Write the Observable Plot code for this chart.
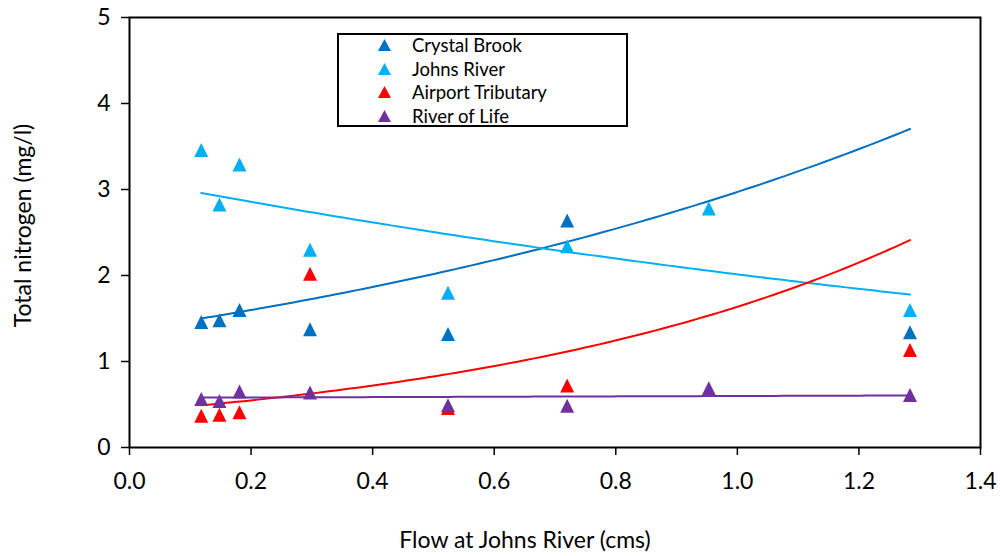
<!DOCTYPE html>
<html>
<head>
<meta charset="utf-8">
<script src="https://cdn.jsdelivr.net/npm/d3@7"></script>
<script src="https://cdn.jsdelivr.net/npm/@observablehq/plot@0.6"></script>
<style>
  html, body { margin: 0; padding: 0; background: #fff; }
  #chart { position: relative; width: 1000px; height: 556px; font-family: Lato, "Open Sans", sans-serif; }
  #legend {
    position: absolute; left: 337px; top: 33px; width: 287px; height: 90px;
    border: 2px solid #000; background: #fff; box-sizing: content-box;
  }
  #legend .row { position: absolute; left: 0; height: 24px; display: flex; align-items: center; }
  #legend .row svg { position: absolute; left: 39px; }
  #legend .row span { position: absolute; left: 73px; font-size: 18.5px; white-space: nowrap; color: #000; }
</style>
</head>
<body>
<div id="chart"></div>
<script>
// Flow at Johns River (cms) for each sampling date
const flow = [0.118, 0.148, 0.181, 0.297, 0.524, 0.720, 0.953, 1.284];

// Total nitrogen (mg/l) per site; null where no sample was taken
const crystalBrook     = [1.46, 1.48, 1.60, 1.375, 1.32, 2.64, null, 1.34];
const johnsRiver       = [3.46, 2.825, 3.29, 2.30, 1.80, 2.34, 2.78, 1.60];
const airportTributary = [0.37, 0.38, 0.41, 2.02, 0.46, 0.72, null, 1.135];
const riverOfLife      = [0.564, 0.54, 0.65, 0.64, 0.49, 0.486, 0.69, 0.61];

const siteNames  = ["Crystal Brook", "Johns River", "Airport Tributary", "River of Life"];
const siteColors = ["#0070C0", "#00B0F0", "#FF0000", "#7030A0"];

// Exponential trendline coefficients, y = a * exp(b * x)
const trendA = [1.369, 3.117, 0.417, 0.5775];
const trendB = [0.775, -0.437, 1.367, 0.0362];

const xTicks = [0, 0.2, 0.4, 0.6, 0.8, 1.0, 1.2, 1.4];
const yTicks = [0, 1, 2, 3, 4, 5];

const seriesValues = [crystalBrook, johnsRiver, airportTributary, riverOfLife];

// Long table of observed points
const points = [];
seriesValues.forEach((vals, s) => {
  vals.forEach((v, i) => {
    if (v != null) points.push({site: siteNames[s], flow: flow[i], tn: v});
  });
});

// Trend curves sampled across the observed flow range
const [xMin, xMax] = d3.extent(flow);
const trends = [];
siteNames.forEach((name, s) => {
  d3.range(0, 101).forEach(k => {
    const x = xMin + (xMax - xMin) * k / 100;
    trends.push({site: name, flow: x, tn: trendA[s] * Math.exp(trendB[s] * x)});
  });
});

// Upward triangle whose box is centred on the point (width = height = 2r)
const triangle = {
  draw(context, size) {
    const r = Math.sqrt(size / Math.PI);
    context.moveTo(0, -r);
    context.lineTo(r, r);
    context.lineTo(-r, r);
    context.closePath();
  }
};

const plot = Plot.plot({
  width: 1000,
  height: 556,
  marginLeft: 129,
  marginRight: 20,
  marginTop: 17,
  marginBottom: 109,
  style: {fontFamily: "Lato, 'Open Sans', sans-serif", fontSize: "23px", color: "#000", background: "#fff"},
  x: {domain: [0, 1.4]},
  y: {domain: [0, 5]},
  color: {domain: siteNames, range: siteColors},
  marks: [
    Plot.line(trends, {x: "flow", y: "tn", z: "site", stroke: "site", strokeWidth: 2}),
    Plot.dot(points, {x: "flow", y: "tn", fill: "site", symbol: triangle, r: 7, stroke: null}),
    Plot.axisX({ticks: xTicks, tickFormat: d3.format(".1f"), tickSize: 8, tickPadding: 17, strokeWidth: 1.5, label: null, fontSize: 23}),
    Plot.axisY({ticks: yTicks, tickFormat: d3.format("d"), tickSize: 8, tickPadding: 11, strokeWidth: 1.5, label: null, fontSize: 23}),
    Plot.frame({stroke: "#000", strokeWidth: 2}),
    Plot.text(["Flow at Johns River (cms)"], {frameAnchor: "bottom", dx: -30, dy: 93, textAnchor: "middle", lineAnchor: "middle", fontSize: 23, fill: "#000"}),
    Plot.text(["Total nitrogen (mg/l)"], {frameAnchor: "left", rotate: -90, dx: -106, dy: -7, textAnchor: "middle", lineAnchor: "middle", fontSize: 23, fill: "#000"})
  ]
});

const chart = document.getElementById("chart");
chart.appendChild(plot);

// Legend box drawn over the plot area
const legend = document.createElement("div");
legend.id = "legend";
siteNames.forEach((name, i) => {
  const row = document.createElement("div");
  row.className = "row";
  row.style.top = (-2 + i * 23.5) + "px";
  row.innerHTML =
    `<svg width="13" height="12" viewBox="0 0 13 12"><path d="M6.5 0 L13 12 L0 12 Z" fill="${siteColors[i]}"/></svg>` +
    `<span>${name}</span>`;
  legend.appendChild(row);
});
chart.appendChild(legend);
</script>
</body>
</html>
